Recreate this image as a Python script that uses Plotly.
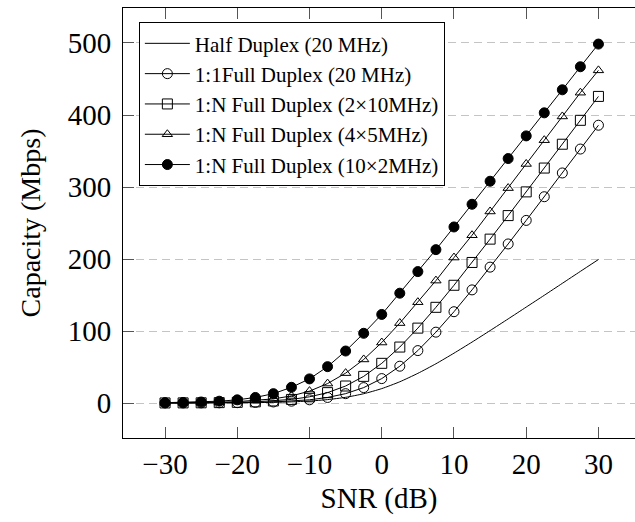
import plotly.graph_objects as go

# SNR sweep in dB
snr_db = [-30, -27.5, -25, -22.5, -20, -17.5, -15, -12.5, -10, -7.5, -5, -2.5,
          0, 2.5, 5, 7.5, 10, 12.5, 15, 17.5, 20, 22.5, 25, 27.5, 30]

# Capacity in Mbps for each scheme
half_duplex_20 = [0.03, 0.05, 0.09, 0.16, 0.29, 0.51, 0.9, 1.58, 2.75, 4.7, 7.9, 12.9,
                  20.0, 29.5, 41.2, 54.5, 69.2, 84.6, 100.6, 116.8, 133.2, 149.6, 166.2, 182.8, 199.3]
fd_1to1_20 = [0.05, 0.08, 0.15, 0.26, 0.46, 0.81, 1.44, 2.54, 4.44, 7.7, 13.0, 21.4,
              33.9, 51.1, 72.8, 98.4, 126.8, 157.1, 188.7, 220.9, 253.6, 286.5, 319.5, 352.7, 385.8]
fd_1toN_2x10 = [0.09, 0.16, 0.29, 0.52, 0.92, 1.62, 2.85, 4.97, 8.6, 14.4, 23.6, 37.0,
                55.1, 77.7, 104.0, 132.9, 163.5, 195.2, 227.6, 260.3, 293.2, 326.3, 359.4, 392.6, 425.8]
fd_1toN_4x5 = [0.2, 0.35, 0.6, 1.1, 1.9, 3.3, 5.7, 9.8, 16.5, 27.0, 41.5, 60.5,
               84.0, 111.0, 140.0, 170.0, 202.0, 233.0, 266.0, 298.5, 332.0, 365.0, 398.0, 431.0, 462.0]
fd_1toN_10x2 = [0.45, 0.8, 1.4, 2.5, 4.4, 7.7, 13.0, 21.8, 33.5, 50.5, 72.2, 96.8,
                123.0, 152.5, 182.5, 213.0, 244.5, 276.0, 308.0, 339.5, 371.0, 403.0, 435.0, 467.0, 498.5]

y_ticks = [0, 100, 200, 300, 400, 500]
x_ticks = [-30, -20, -10, 0, 10, 20, 30]

FONT = "Liberation Serif"

fig = go.Figure()

fig.add_trace(go.Scatter(
    x=snr_db, y=half_duplex_20, mode="lines", name="Half Duplex (20 MHz)",
    line=dict(color="black", width=1, shape="spline", smoothing=0.6),
))
fig.add_trace(go.Scatter(
    x=snr_db, y=fd_1to1_20, mode="lines+markers", name="1:1Full Duplex (20 MHz)",
    line=dict(color="black", width=1),
    marker=dict(symbol="circle-open", size=10, color="black", line=dict(width=1, color="black")),
))
fig.add_trace(go.Scatter(
    x=snr_db, y=fd_1toN_2x10, mode="lines+markers", name="1:N Full Duplex (2×10MHz)",
    line=dict(color="black", width=1),
    marker=dict(symbol="square-open", size=10, color="black", line=dict(width=1, color="black")),
))
fig.add_trace(go.Scatter(
    x=snr_db, y=fd_1toN_4x5, mode="lines+markers", name="1:N Full Duplex (4×5MHz)",
    line=dict(color="black", width=1),
    marker=dict(symbol="triangle-up-open", size=9, color="black", line=dict(width=1, color="black")),
))
fig.add_trace(go.Scatter(
    x=snr_db, y=fd_1toN_10x2, mode="lines+markers", name="1:N Full Duplex (10×2MHz)",
    line=dict(color="black", width=1),
    marker=dict(symbol="circle", size=10, color="black", line=dict(width=1, color="black")),
))

fig.update_layout(
    width=635, height=522,
    margin=dict(l=123, r=0, t=8, b=84),
    paper_bgcolor="white", plot_bgcolor="white",
    font=dict(family=FONT, color="black", size=28),
    showlegend=True,
    legend=dict(
        x=0.031, y=0.967, xanchor="left", yanchor="top",
        bgcolor="white", bordercolor="black", borderwidth=1,
        font=dict(family=FONT, size=21, color="black"),
        itemwidth=45, tracegroupgap=0,
    ),
    xaxis=dict(
        range=[-35.82, 35.06], tickvals=x_ticks,
        showgrid=False, zeroline=False,
        showline=True, linecolor="black", linewidth=1, mirror="ticks",
        ticks="inside", ticklen=11, tickcolor="#555", tickwidth=1,
        tickfont=dict(family=FONT, size=29),
        title=dict(text="SNR (dB)", font=dict(family=FONT, size=29), standoff=8),
    ),
    yaxis=dict(
        range=[-48.6, 548.6], tickvals=y_ticks,
        showgrid=True, gridcolor="#c4c4c4", gridwidth=1, griddash="8px,5px",
        zeroline=False,
        showline=True, linecolor="black", linewidth=1, mirror=False,
        ticks="inside", ticklen=11, tickcolor="#555", tickwidth=1,
        tickfont=dict(family=FONT, size=29), ticklabelstandoff=5,
        title=dict(text="Capacity (Mbps)", font=dict(family=FONT, size=28), standoff=18),
    ),
)

fig.write_html("out.html")
